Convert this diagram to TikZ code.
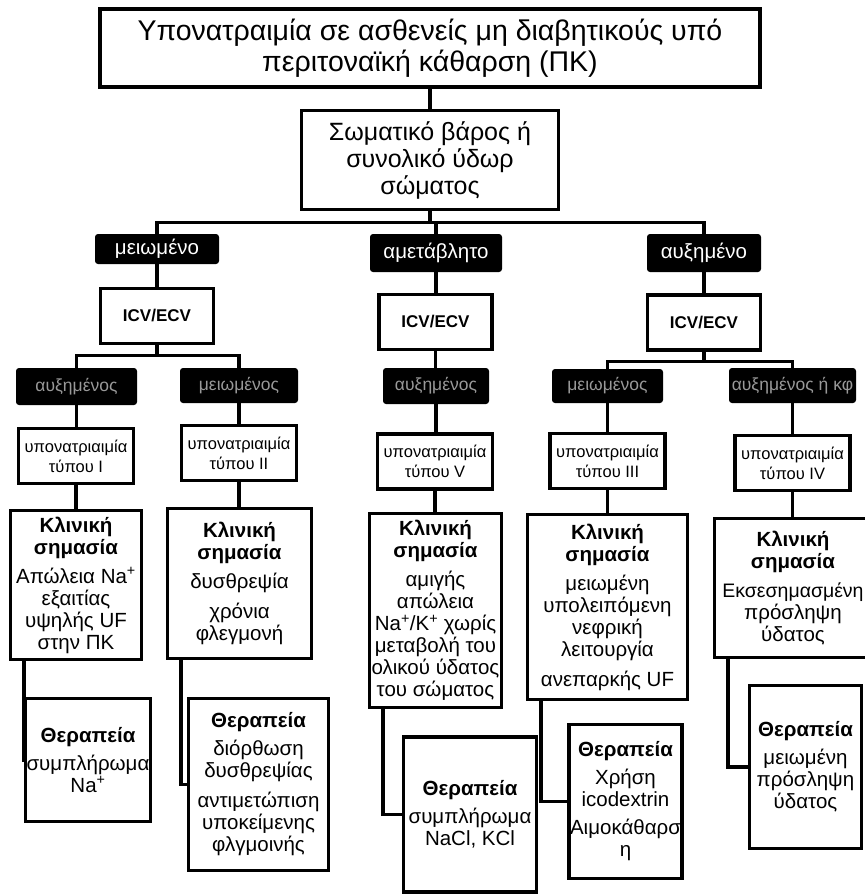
\documentclass[tikz,border=0pt]{standalone}
\usepackage{fontspec}
\setmainfont{Liberation Sans}
\begin{document}
\begin{tikzpicture}[x=1pt,y=-1pt,
    box/.style={draw,line width=3.2pt,align=center,inner sep=1pt},
    darklbl/.style={fill=black,rounded corners=3pt,text=white,align=center,inner sep=1pt,font=\fontsize{20.5}{22}\selectfont},
    darklbltwo/.style={darklbl,text=black!40,font=\fontsize{17.5}{19}\selectfont},
    typebox/.style={box,minimum width=115,minimum height=55,font=\fontsize{16.5}{20}\selectfont},
    infobox/.style={box,font=\fontsize{20.5}{22}\selectfont},
    link/.style={line width=3.2pt}]
    \useasboundingbox (0,0) rectangle (865,895);

    \node[box,minimum width=660,minimum height=78,font=\fontsize{28.5}{31}\selectfont] (title) at (430,48) {Υπονατραιμία σε ασθενείς μη διαβητικούς υπό\\περιτοναϊκή κάθαρση (ΠΚ)};
    \node[box,minimum width=257,minimum height=99,font=\fontsize{25}{27}\selectfont] (weight) at (430,160) {Σωματικό βάρος ή\\συνολικό ύδωρ\\σώματος};

    % first split
    \node[darklbl,minimum width=124,minimum height=30] (dec) at (157,249) {μειωμένο};
    \node[darklbl,minimum width=132,minimum height=38] (same) at (436,253) {αμετάβλητο};
    \node[darklbl,minimum width=114,minimum height=38] (inc) at (704,253) {αυξημένο};

    \node[box,minimum width=113,minimum height=55,font=\bfseries\fontsize{17}{19}\selectfont] (icvA) at (157,316) {ICV/ECV};
    \node[box,minimum width=113,minimum height=55,font=\bfseries\fontsize{17}{19}\selectfont] (icvB) at (435.5,322) {ICV/ECV};
    \node[box,minimum width=113,minimum height=55,font=\bfseries\fontsize{17}{19}\selectfont] (icvC) at (704,322.5) {ICV/ECV};

    % second split
    \node[darklbltwo,minimum width=121,minimum height=37] (decUp) at (76.5,386.5) {αυξημένος};
    \node[darklbltwo,minimum width=118,minimum height=35] (decDown) at (239,385.5) {μειωμένος};
    \node[darklbltwo,minimum width=106,minimum height=36] (sameUp) at (436,386) {αυξημένος};
    \node[darklbltwo,minimum width=111,minimum height=34] (incDown) at (607.5,386) {μειωμένος};
    \node[darklbltwo,minimum width=127,minimum height=35] (incUp) at (792.5,385.5) {αυξημένος ή κφ};

    \node[typebox] (typeI) at (76,456) {υπονατριαιμία\\τύπου I};
    \node[typebox] (typeII) at (239,453) {υπονατριαιμία\\τύπου II};
    \node[typebox] (typeV) at (435,461.5) {υπονατριαιμία\\τύπου V};
    \node[typebox] (typeIII) at (607.5,461) {υπονατριαιμία\\τύπου III};
    \node[typebox] (typeIV) at (792.5,463) {υπονατριαιμία\\τύπου IV};

    \node[infobox,minimum width=131,minimum height=149] (clinI) at (76,585) {\textbf{Κλινική}\\\textbf{σημασία}\\[7pt]Απώλεια Na\textsuperscript{+}\\εξαιτίας\\υψηλής UF\\στην ΠΚ};
    \node[infobox,minimum width=144,minimum height=150] (clinII) at (239.5,583.5) {\textbf{Κλινική}\\\textbf{σημασία}\\[7pt]δυσθρεψία\\[8pt]χρόνια\\φλεγμονή};
    \node[infobox,minimum width=132,minimum height=194] (clinV) at (435.5,610.5) {\textbf{Κλινική}\\\textbf{σημασία}\\[7pt]αμιγής\\απώλεια\\Na\textsuperscript{+}/K\textsuperscript{+} χωρίς\\μεταβολή του\\ολικού ύδατος\\του σώματος};
    \node[infobox,minimum width=160,minimum height=185] (clinIII) at (607.5,607) {\textbf{Κλινική}\\\textbf{σημασία}\\[7pt]μειωμένη\\υπολειπόμενη\\νεφρική\\λειτουργία\\[8pt]ανεπαρκής UF};
    \node[infobox,minimum width=157,minimum height=139] (clinIV) at (793,588) {\textbf{Κλινική}\\\textbf{σημασία}\\[7pt]{\fontsize{19.5}{22}\selectfont Εκσεσημασμένη}\\πρόσληψη\\ύδατος};

    \node[infobox,minimum width=117,minimum height=123] (therI) at (88,760) {\textbf{Θεραπεία}\\[6pt]συμπλήρωμα\\Na\textsuperscript{+}};
    \node[infobox,minimum width=140,minimum height=172] (therII) at (258.5,784.5) {\textbf{Θεραπεία}\\[6pt]διόρθωση\\δυσθρεψίας\\[8pt]αντιμετώπιση\\υποκείμενης\\φλγμοινής};
    \node[infobox,minimum width=133,minimum height=155] (therV) at (470,814.5) {\textbf{Θεραπεία}\\[6pt]συμπλήρωμα\\NaCl, KCl};
    \node[infobox,minimum width=112,minimum height=154] (therIII) at (625.5,801.5) {\textbf{Θεραπεία}\\[6pt]Χρήση\\icodextrin\\[6pt]Αιμοκάθαρσ\\η};
    \node[infobox,minimum width=112,minimum height=163] (therIV) at (805.5,767) {\textbf{Θεραπεία}\\[6pt]μειωμένη\\πρόσληψη\\ύδατος};

    \draw[link] (title) -- (weight);
    \draw[link] (weight.south) -- ++(0,11) coordinate (fork);
    \draw[link] (fork) -| (dec.north);
    \draw[link] (fork) -| (same.north);
    \draw[link] (fork) -| (inc.north);
    \draw[link] (dec) -- (icvA);
    \draw[link] (same.south) -- (same.south |- icvB.north);
    \draw[link] (inc) -- (icvC);

    \draw[link] (icvA.south) -- ++(0,10) coordinate (forkA);
    \draw[link] (forkA) -| (decUp.north);
    \draw[link] (forkA) -| (decDown.north);
    \draw[link] (icvB.south) -- (icvB.south |- sameUp.north);
    \draw[link] (icvC.south) -- ++(0,10) coordinate (forkC);
    \draw[link] (forkC) -| (incDown.north);
    \draw[link] (forkC) -| (incUp.north);

    \draw[link] (decUp.south) -- (decUp.south |- typeI.north);
    \draw[link] (decDown.south) -- (decDown.south |- typeII.north);
    \draw[link] (sameUp.south) -- (sameUp.south |- typeV.north);
    \draw[link] (incDown.south) -- (incDown.south |- typeIII.north);
    \draw[link] (incUp.south) -- (incUp.south |- typeIV.north);

    \draw[link] (typeI.south) -- (typeI.south |- clinI.north);
    \draw[link] (typeII.south) -- (typeII.south |- clinII.north);
    \draw[link] (typeV.south) -- (typeV.south |- clinV.north);
    \draw[link] (typeIII.south) -- (typeIII.south |- clinIII.north);
    \draw[link] (typeIV.south) -- (typeIV.south |- clinIV.north);

    % elbows down to the therapy boxes
    \draw[link] ([xshift=15pt]clinI.south west) |- (therI.west);
    \draw[link] ([xshift=15pt]clinII.south west) |- (therII.west);
    \draw[link] ([xshift=15pt]clinV.south west) |- (therV.west);
    \draw[link] ([xshift=15pt]clinIII.south west) |- (therIII.west);
    \draw[link] ([xshift=15pt]clinIV.south west) |- (therIV.west);
\end{tikzpicture}
\end{document}
